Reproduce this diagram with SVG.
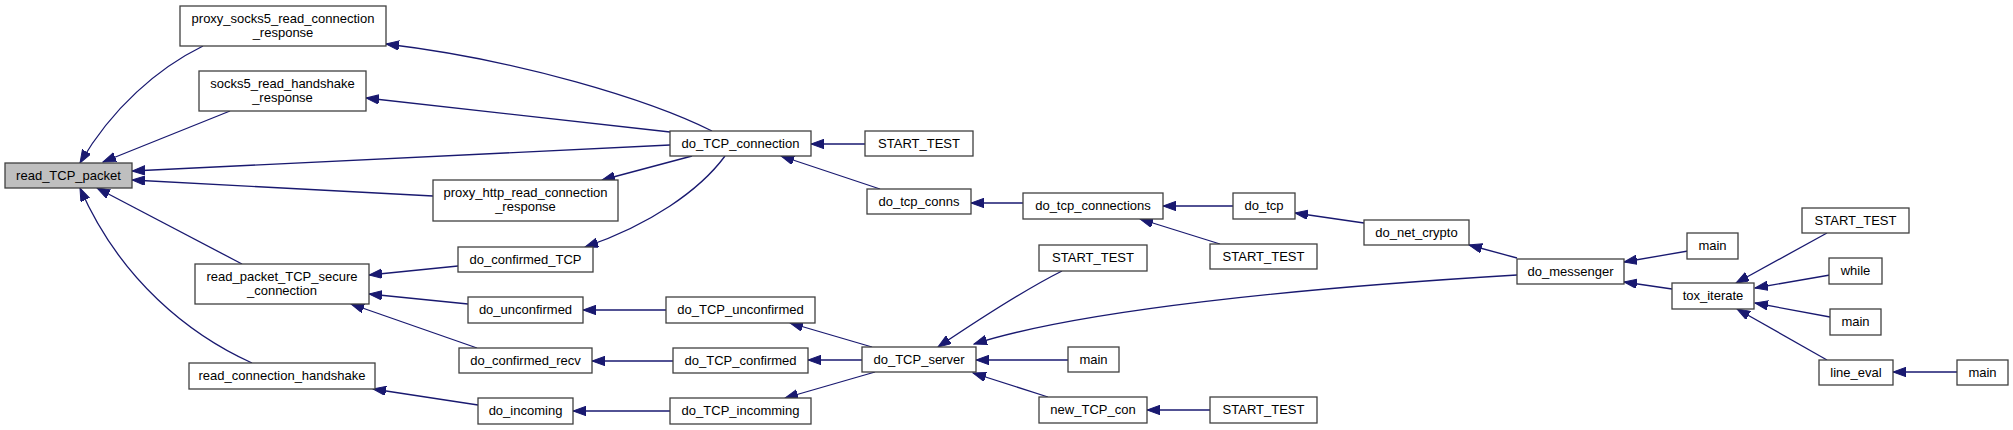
<svg xmlns="http://www.w3.org/2000/svg" width="2013" height="430" viewBox="0 0 2013 430">
<style>
.n rect{fill:#ffffff;stroke:#404040;stroke-width:1.3}
.n.root rect{fill:#bfbfbf}
.n text{font-family:"Liberation Sans",Arial,Helvetica,sans-serif;font-size:13px;fill:#000000;text-anchor:middle}
#edges path{fill:none;stroke:#191970;stroke-width:1.3;marker-end:url(#ah)}
</style>
<defs>
<marker id="ah" markerUnits="userSpaceOnUse" markerWidth="14" markerHeight="10" refX="13" refY="4.7" orient="auto">
<path d="M0,0 L13,4.7 L0,9.4 Z" fill="#191970" stroke="#191970" stroke-width="1"/>
</marker>
</defs>
<rect width="2013" height="430" fill="#ffffff"/>
<g id="edges">
<path d="M203,46 C158,68 112,108 80,163"/>
<path d="M230,111 L103,162"/>
<path d="M670,145 L132,171"/>
<path d="M433,196 L132,180"/>
<path d="M242,264 L97,188"/>
<path d="M252,363 C190,335 120,280 80,188"/>
<path d="M712,131 C650,100 520,60 386,44"/>
<path d="M670,132 L366,98"/>
<path d="M692,156 L602,180"/>
<path d="M725,156 C700,190 650,225 585,247"/>
<path d="M865,144 L811,144"/>
<path d="M880,189 L781,156"/>
<path d="M1023,203 L971,203"/>
<path d="M458,266 L369,275"/>
<path d="M468,304 L369,294"/>
<path d="M477,348 L351,304"/>
<path d="M666,310 L583,310"/>
<path d="M673,361 L592,361"/>
<path d="M478,405 L373,389"/>
<path d="M670,411 L573,411"/>
<path d="M872,347 L790,323"/>
<path d="M862,360 L808,360"/>
<path d="M875,372 L785,398"/>
<path d="M1062,271 C1030,287 990,312 938,347"/>
<path d="M1068,360 L976,360"/>
<path d="M1048,397 L973,373"/>
<path d="M1210,410 L1147,410"/>
<path d="M1517,275 C1300,288 1080,310 974,344"/>
<path d="M1233,206 L1163,206"/>
<path d="M1220,244 L1140,219"/>
<path d="M1364,223 L1295,213"/>
<path d="M1517,258 L1469,245"/>
<path d="M1688,251 L1624,262"/>
<path d="M1672,289 L1624,282"/>
<path d="M1827,233 L1736,283"/>
<path d="M1830,275 L1755,288"/>
<path d="M1830,317 L1755,303"/>
<path d="M1827,360 L1737,309"/>
<path d="M1957,372 L1893,372"/>
</g>
<g id="n_read_TCP_packet" class="n root"><rect x="5" y="163" width="127" height="25"/><text x="68.5" y="180">read_TCP_packet</text></g>
<g id="n_proxy_socks5" class="n"><rect x="180" y="6" width="206" height="40"/><text x="283" y="23">proxy_socks5_read_connection</text><text x="283" y="37">_response</text></g>
<g id="n_socks5_handshake" class="n"><rect x="199" y="71" width="167" height="40"/><text x="282.5" y="88">socks5_read_handshake</text><text x="282.5" y="102">_response</text></g>
<g id="n_read_packet_secure" class="n"><rect x="195" y="264" width="174" height="40"/><text x="282" y="281">read_packet_TCP_secure</text><text x="282" y="295">_connection</text></g>
<g id="n_read_conn_handshake" class="n"><rect x="189" y="363" width="186" height="26"/><text x="282" y="380">read_connection_handshake</text></g>
<g id="n_proxy_http" class="n"><rect x="433" y="180" width="185" height="41"/><text x="525.5" y="197">proxy_http_read_connection</text><text x="525.5" y="211">_response</text></g>
<g id="n_do_confirmed_TCP" class="n"><rect x="458" y="247" width="135" height="25"/><text x="525.5" y="264">do_confirmed_TCP</text></g>
<g id="n_do_unconfirmed" class="n"><rect x="468" y="297" width="115" height="26"/><text x="525.5" y="314">do_unconfirmed</text></g>
<g id="n_do_confirmed_recv" class="n"><rect x="459" y="348" width="133" height="25"/><text x="525.5" y="365">do_confirmed_recv</text></g>
<g id="n_do_incoming" class="n"><rect x="478" y="398" width="95" height="26"/><text x="525.5" y="415">do_incoming</text></g>
<g id="n_do_TCP_connection" class="n"><rect x="670" y="131" width="141" height="25"/><text x="740.5" y="148">do_TCP_connection</text></g>
<g id="n_start_test_a" class="n"><rect x="865" y="131" width="108" height="25"/><text x="919" y="148">START_TEST</text></g>
<g id="n_do_tcp_conns" class="n"><rect x="867" y="189" width="104" height="25"/><text x="919" y="206">do_tcp_conns</text></g>
<g id="n_do_TCP_unconfirmed" class="n"><rect x="666" y="297" width="149" height="26"/><text x="740.5" y="314">do_TCP_unconfirmed</text></g>
<g id="n_do_TCP_confirmed" class="n"><rect x="673" y="348" width="135" height="25"/><text x="740.5" y="365">do_TCP_confirmed</text></g>
<g id="n_do_TCP_incomming" class="n"><rect x="670" y="398" width="141" height="26"/><text x="740.5" y="415">do_TCP_incomming</text></g>
<g id="n_do_TCP_server" class="n"><rect x="862" y="347" width="114" height="25"/><text x="919" y="364">do_TCP_server</text></g>
<g id="n_start_test_b" class="n"><rect x="1039" y="245" width="108" height="26"/><text x="1093" y="262">START_TEST</text></g>
<g id="n_main_a" class="n"><rect x="1068" y="347" width="51" height="25"/><text x="1093.5" y="364">main</text></g>
<g id="n_new_TCP_con" class="n"><rect x="1039" y="397" width="108" height="26"/><text x="1093" y="414">new_TCP_con</text></g>
<g id="n_start_test_c" class="n"><rect x="1210" y="397" width="107" height="26"/><text x="1263.5" y="414">START_TEST</text></g>
<g id="n_do_tcp_connections" class="n"><rect x="1023" y="193" width="140" height="26"/><text x="1093" y="210">do_tcp_connections</text></g>
<g id="n_do_tcp" class="n"><rect x="1233" y="193" width="62" height="26"/><text x="1264" y="210">do_tcp</text></g>
<g id="n_start_test_d" class="n"><rect x="1210" y="244" width="107" height="25"/><text x="1263.5" y="261">START_TEST</text></g>
<g id="n_do_net_crypto" class="n"><rect x="1364" y="220" width="105" height="25"/><text x="1416.5" y="237">do_net_crypto</text></g>
<g id="n_do_messenger" class="n"><rect x="1517" y="259" width="107" height="25"/><text x="1570.5" y="276">do_messenger</text></g>
<g id="n_main_b" class="n"><rect x="1687" y="233" width="51" height="26"/><text x="1712.5" y="250">main</text></g>
<g id="n_tox_iterate" class="n"><rect x="1672" y="283" width="82" height="26"/><text x="1713" y="300">tox_iterate</text></g>
<g id="n_start_test_e" class="n"><rect x="1802" y="208" width="107" height="25"/><text x="1855.5" y="225">START_TEST</text></g>
<g id="n_while" class="n"><rect x="1829" y="258" width="53" height="26"/><text x="1855.5" y="275">while</text></g>
<g id="n_main_c" class="n"><rect x="1830" y="309" width="51" height="26"/><text x="1855.5" y="326">main</text></g>
<g id="n_line_eval" class="n"><rect x="1819" y="360" width="74" height="25"/><text x="1856" y="377">line_eval</text></g>
<g id="n_main_d" class="n"><rect x="1957" y="360" width="51" height="25"/><text x="1982.5" y="377">main</text></g>
</svg>
